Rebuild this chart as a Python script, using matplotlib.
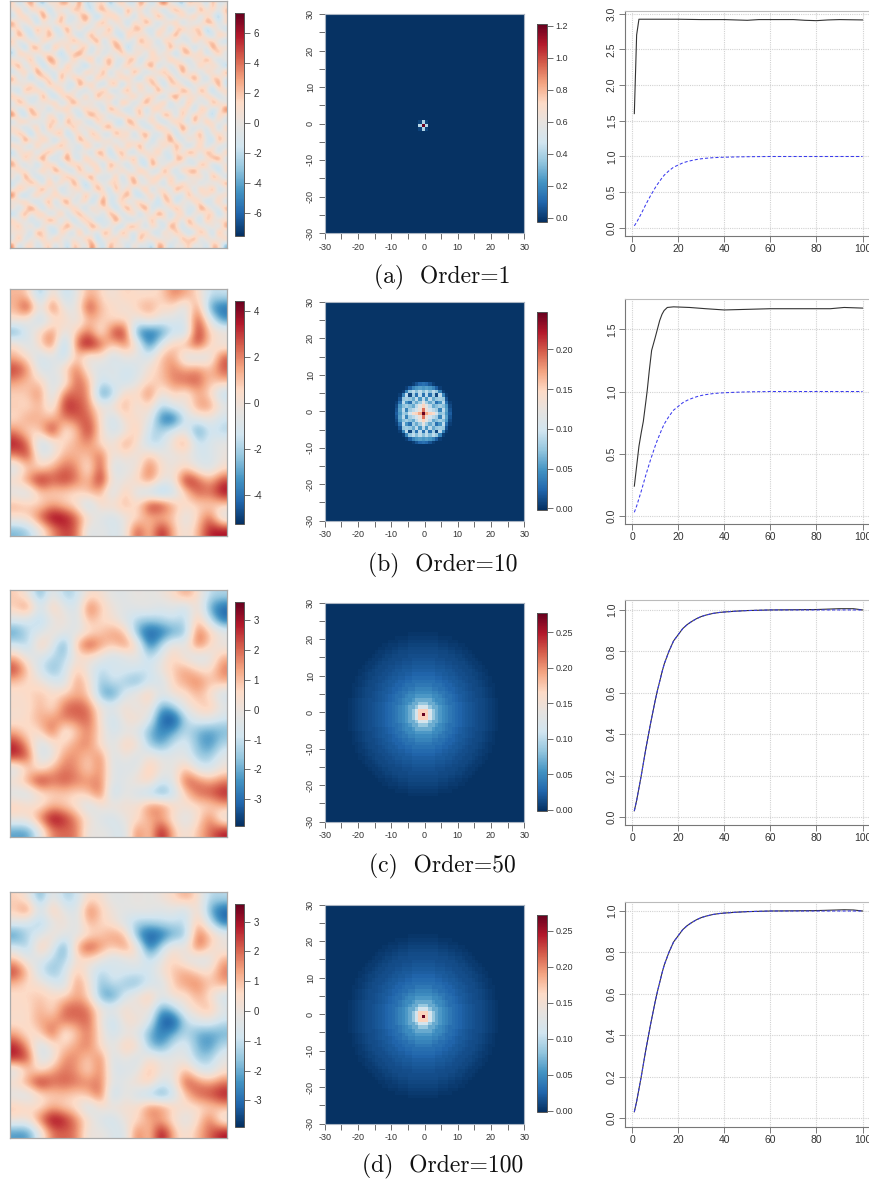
import numpy as np
import matplotlib
matplotlib.use("Agg")
import matplotlib.pyplot as plt
from matplotlib.colors import LinearSegmentedColormap
from matplotlib.ticker import MultipleLocator

W, H = 869, 1184
plt.rcParams['font.family'] = ['Liberation Sans', 'DejaVu Sans']
plt.rcParams['axes.unicode_minus'] = False

# ---- values (colour-scale units) ----
FIELD_ORDER1 = [
 [2,-3,1,4,-1,-4,2,0,3,3,-2,5,-3,-1,1,2,-4,0,3,-2,-2,4,1,-3,2,5,0,-1,-4,3,1,1,-3,4,-2,0],
 [0,4,-4,1,2,3,-5,2,-1,-2,4,1,0,-4,3,3,1,-2,-3,5,0,1,-3,3,-1,-4,2,4,1,-2,-3,5,0,2,-1,3],
 [-3,1,3,-2,-2,5,1,-3,4,0,-3,2,4,1,-5,0,2,3,-1,2,-4,3,0,-2,5,1,-3,-2,3,0,4,-3,2,-1,-4,1],
 [4,-1,0,3,-4,1,-2,2,3,-3,1,-1,3,-2,2,4,-3,1,1,-4,3,-2,5,1,-3,0,2,3,-4,1,-2,0,4,3,-2,2],
 [1,2,-3,-1,4,0,3,-4,0,5,-2,3,-3,0,1,-2,5,-3,2,0,2,4,-3,-1,0,3,-4,1,4,-1,3,2,-5,1,0,-3],
 [-2,5,1,-4,2,-1,4,1,-3,2,0,-4,1,4,-2,3,0,-1,-4,3,1,-1,2,-3,4,-2,1,5,-3,2,-1,4,-1,-3,3,2],
 [3,-3,2,1,-3,3,0,-2,2,-1,4,2,-2,1,5,-4,2,3,-1,1,-3,5,0,2,-4,3,1,-2,0,-3,4,-2,3,2,-1,-3],
 [0,1,-5,3,4,-2,-3,5,-1,3,-3,0,4,-3,0,1,-2,4,2,-5,2,-2,3,-1,1,-3,5,0,3,1,-4,1,-2,5,0,2],
 [-4,3,2,-1,0,2,1,-1,-4,1,2,5,-1,-2,3,-3,1,-2,4,0,-1,3,-3,4,-2,2,-1,-4,2,4,0,3,-3,-1,4,-2],
 [2,-2,0,4,-3,-1,5,2,0,-3,3,-2,2,4,-4,2,3,0,-3,2,4,-4,1,0,3,-2,4,1,-1,-3,2,-1,5,0,-3,1],
 [1,5,-3,1,2,-4,0,3,-3,4,-1,1,-5,0,1,-1,4,-3,1,3,-2,0,2,5,-4,1,-3,2,3,0,-2,4,-2,2,1,-4],
 [-3,0,3,-2,5,1,-2,-1,2,1,0,-3,3,2,-2,5,-4,2,0,-3,5,1,-3,-1,2,3,0,-3,5,-1,1,-3,3,0,-2,4],
 [4,-2,1,-4,0,3,2,-4,5,-2,3,2,-1,-3,4,0,1,-1,3,2,-1,-4,3,2,-2,0,4,-1,-2,2,4,1,-4,3,2,-1],
 [0,2,-1,3,-2,-3,4,1,-1,0,-4,5,1,3,-2,-3,2,4,-5,1,0,3,-2,4,1,-4,2,3,0,-4,1,-2,2,-1,5,-3],
 [-1,-4,4,1,3,0,-3,2,3,-3,2,-1,-3,1,0,4,-2,-3,2,4,-3,2,0,-3,5,1,-1,-2,4,3,-3,5,0,-4,1,2],
 [3,1,-2,0,-3,5,-1,-4,1,4,0,-2,4,-3,5,-1,3,1,-2,-1,4,-2,1,3,-2,-3,3,5,-1,0,2,-2,3,1,-3,0],
 [-2,4,2,-3,1,-1,2,3,-3,-1,5,1,-2,2,-3,1,0,-4,4,2,-3,0,5,-1,0,4,-4,1,-3,4,-1,0,-3,4,2,-1],
 [1,-3,0,5,-2,2,-4,1,2,3,-3,0,3,-1,2,-4,5,2,-2,-3,1,3,-4,2,3,-2,0,-1,2,1,-4,3,2,-2,-1,5],
 [5,0,-4,2,4,-3,3,-1,-2,0,2,-4,1,5,0,2,-3,1,3,0,-2,4,-1,1,-3,5,2,-3,4,-2,3,1,-1,-4,3,0],
 [-3,2,3,-1,-2,1,0,4,-3,5,-1,3,-2,-3,4,-1,1,-2,-4,5,2,-3,0,3,-1,-4,1,3,0,-3,5,-2,4,0,1,-2],
 [2,-1,-3,1,3,-4,5,-2,1,-1,4,-2,2,0,-3,3,4,-1,1,-2,3,1,-3,-2,4,2,-2,-1,5,1,-3,0,-2,3,-4,3],
 [0,4,1,-5,2,0,-2,3,3,-4,0,2,-3,4,1,-2,-3,5,0,3,-4,2,4,0,-3,1,3,-4,2,-2,1,4,-3,1,2,-1],
 [-2,-3,5,2,-1,3,1,-4,0,2,-3,5,1,-2,3,0,2,-3,2,-1,1,-2,3,-4,2,-1,5,0,-3,3,-1,2,0,-4,4,1],
 [3,1,-1,-3,4,-2,-1,2,4,-1,1,-4,3,2,-4,1,-1,3,-3,4,0,5,-3,1,-1,3,-2,4,1,-4,0,3,-3,2,-1,-2],
 [-4,2,0,3,-3,1,4,0,-3,3,-2,1,-1,-3,5,2,-4,1,4,-2,-3,1,2,-1,4,-3,0,2,-2,5,2,-1,4,1,-3,3],
 [1,-2,4,-1,2,5,-3,-2,1,5,-1,-3,4,0,-2,3,0,-3,2,1,4,-3,0,3,-2,1,-4,3,4,-3,1,-2,0,3,5,-2],
 [4,0,-3,2,-4,0,3,1,-4,0,3,2,-2,3,1,-4,4,2,-1,-3,2,-1,-4,5,1,-2,3,1,-2,0,-3,4,2,-3,-1,1],
 [-1,3,1,-2,1,3,-2,5,2,-2,-3,4,0,-3,4,-1,2,-2,3,0,-2,4,1,-2,-3,5,-1,-3,3,2,5,-2,0,1,-4,2],
 [2,-4,5,0,-3,-1,1,-3,0,4,1,-2,2,5,-3,0,-3,4,-4,2,3,-3,2,0,4,-1,2,0,-4,1,-1,3,-3,4,2,-3],
 [-3,1,-1,4,2,-3,4,-1,3,-3,5,0,-4,1,2,-2,3,1,0,-2,5,0,-2,3,-1,-3,4,-2,3,-1,2,-3,1,-2,0,4],
 [0,3,2,-3,0,5,-2,2,-4,1,-1,3,-2,-1,4,1,-4,5,-2,3,-3,1,4,-4,2,1,-3,5,1,2,-3,4,-1,5,-3,-1],
 [5,-2,-4,1,3,-2,0,3,1,-2,2,-3,4,0,-3,3,-1,-2,2,4,-1,-4,0,3,-2,4,0,-1,-3,4,0,-1,3,-2,1,2],
 [-1,2,3,-2,-3,1,4,-4,2,5,-3,1,2,-4,1,5,-3,0,3,-3,1,3,-2,1,-4,2,3,-4,2,-2,3,1,-4,0,3,-3],
 [2,-3,0,5,1,-4,2,1,-2,0,3,-1,-3,3,-1,2,1,-4,1,5,-2,2,5,-3,0,-2,1,4,-1,0,-3,5,2,-2,-1,4],
 [-4,1,4,-1,2,3,-3,-1,4,-3,1,4,0,-2,2,-3,4,2,-3,0,3,-4,1,-1,5,2,-3,0,3,-4,2,-1,1,3,-4,0],
 [3,-2,1,-3,0,-1,5,2,-3,2,-4,0,3,1,-4,0,-2,5,1,-2,-3,2,-1,4,-3,1,-1,3,-2,5,-1,-3,4,-1,2,1],
 [0,4,-2,3,-4,2,-3,0,1,4,2,-2,-1,4,3,-3,1,-1,-4,3,4,0,-3,2,1,-4,5,1,-3,1,3,0,-2,2,-3,4],
 [1,-1,2,-4,5,1,0,-4,3,-1,-3,5,-3,0,-2,4,2,-3,5,0,-2,1,3,-2,-3,3,-2,4,0,-3,-2,4,1,-4,5,-2],
 [-2,5,-3,1,-1,3,-2,4,-1,0,1,-2,3,2,-4,1,-1,3,-2,2,-4,5,-1,3,0,-1,2,-3,4,1,5,-3,2,0,-1,3],
 [4,-3,1,2,-2,0,3,-3,2,-4,3,1,-2,5,0,-3,4,0,1,-3,2,-2,0,-4,4,2,-3,1,-1,3,-2,1,-3,3,2,-4],
]
FIELD_ORDER10 = [
 [1.2,.9,-3,.9,-2,-.6,1.5,.6,-.3,.9,.3,.3,.6,2.2,1.5,.6,-1.7,-1.4],
 [1.2,3.9,-1.2,3.2,-.7,-.6,3.5,.9,.6,-.3,.9,1.8,.3,.6,-1.4,2.5,-3.4,-4.2],
 [.3,-.4,-2.1,-.3,.9,-1,1.2,.9,.3,.6,-.7,.4,-.6,-.9,-1.2,3.3,-.6,-3.5],
 [-3.2,-.9,.6,2.2,-.9,.9,2.5,-.6,3.2,3.5,-3.9,-4.2,-3.7,-1.4,-2.2,3.9,.6,.3],
 [.6,-1.4,.6,2.7,-3.5,2.7,4.3,2.7,.6,2.2,.3,-4.2,-.6,.9,1.4,3.2,.6,-.6],
 [1.2,.3,-1.7,-.6,-2,1.2,-.9,.3,-1.7,-.3,-.6,-1.2,1.2,1.7,-1.2,-1.4,-.9,2.7],
 [3.2,2,-1.4,-.9,.6,2.5,-.3,-1.2,-.6,-1.4,-1.2,.3,.9,2.2,1.4,2,.9,2.7],
 [1.7,.9,.9,-1.2,-.6,2.7,1.4,-1.7,-.6,-1.7,-.6,.6,.9,2,2.5,2.7,.9,1.2],
 [.6,.9,2.2,-1.7,2.5,2.2,2.2,-3.9,-2.2,.9,.3,2.5,-.6,.9,-.3,1.4,.6,-2.2],
 [.9,.3,1.4,-.9,3.5,3,2,-.3,.3,1.7,-.6,.9,-2.2,-.6,-.3,1.7,2,-.3],
 [.3,1.7,1.2,1.2,2,2.5,2.7,.3,-2,.6,.3,-.3,-3.9,-4.6,-1.2,-.6,-.3,-1.4],
 [2,.3,.9,3.9,-.3,.9,3.5,.3,-1.4,-.6,1.4,-1.7,-2,-.9,-.3,-3.7,-1.2,-2],
 [3.7,2.5,-2.2,-.6,.6,1.4,2,.3,-.3,2,.3,-2,-1.7,.6,2,-1.7,-.9,-.3],
 [2,3.2,-.9,-.3,1.4,1.2,.9,2.7,-.6,.3,-.6,1.2,-.3,-.6,-.3,-1.2,-1.2,-.3],
 [-1.4,.9,.6,1.4,2.5,2,-.3,3.2,-1.4,-.6,-.3,2.5,.3,-.3,.9,-.6,-1.2,.3],
 [.6,2,3.9,2.5,3.2,2.2,.9,3.9,-.6,-.3,.6,2.2,-.3,-.3,3.9,2.7,1.2,3],
 [-.9,-1.4,.9,.6,.6,.3,1.2,1.4,-1.7,1.4,-1.2,-2,-3,-1.7,.6,2.7,2.2,3.9],
 [1.4,.9,.6,1.7,.9,.3,-2.2,.6,.3,1.4,.3,3.5,3.5,1.4,.3,.6,.6,.6],
 [.3,.6,2.7,4.2,3.9,2.5,.3,-.9,-1.4,-.3,.3,1.4,.9,.9,-.9,.6,2.7,-1.2],
 [-2.7,-2.2,-.3,1.7,3,2.5,-1.2,-.3,-1.2,-.6,3.2,.6,3.9,1.2,-.3,1.2,3.5,3.7],
]
FIELD_ORDER50 = [
 [.8,0,-2.2,.1,-1.5,-1.1,.5,.3,-.4,-.4,0,-.3,0,.5,1.5,.5,-1.2,-1.2],
 [.8,2,-1,1.1,-.3,-.9,2.2,.9,0,-.4,-.3,-.1,-.6,-.3,-1.2,.6,-2.2,-3.2],
 [-.5,-.8,-1.5,-.3,.3,-.8,1.2,.5,.3,-.6,-1.3,-1.5,-1.2,-.9,-1.3,1.2,-1,-3],
 [-2.4,-1,-.6,.3,-.3,-.5,.3,.8,1.5,1.1,-2.2,-3.4,-3,-2.2,-1.8,2.2,.9,0],
 [-.8,-1.5,1.2,-.3,-2.5,1.2,2.7,1.5,.8,1.8,.5,-3.1,-1.2,.3,-.3,2.2,.6,-.3],
 [1.2,-.3,-.6,-1.2,-1.5,.2,.3,-.2,-1,-.6,0,-1.2,-.3,.9,-.3,-.9,-.5,1.2],
 [2.6,.9,-.9,-1.9,-.9,1,-.2,-1.3,-.6,-.6,-.8,-1,.2,.8,1.5,.6,.3,1.9],
 [.9,.5,.3,-.6,-.8,1.6,.5,-1.8,-.8,-1.5,-2,-.8,-.9,.8,1.3,1.9,.9,1.2],
 [.3,.6,1,.5,.8,1.2,.9,-2,-2.6,-.5,.2,1,-.5,.3,.3,1.2,.3,-1],
 [.5,.3,1.2,.2,2,2.3,1.9,0,-.3,.5,-.6,.5,-2.3,-1.5,0,.6,1.2,-.2],
 [.2,.6,1.3,1.5,1.8,1.9,2.2,.2,-1.3,.3,.5,-.3,-3.2,-3.8,-1.3,-.3,-.3,-.9],
 [1.2,.3,.6,2.3,-.3,.8,1.8,.5,-.9,-.3,-.5,-1.9,-2.7,-2.2,-1,-2,-2.3,-1.9],
 [2.8,1.3,-1,.2,.6,1.5,1.8,.2,-.5,.9,.5,-1.6,-2.3,-.9,-.5,-1.8,-2.6,-1.2],
 [2.8,2.3,-.9,-.3,1.6,1.5,.8,1.9,-.8,.2,-.8,.3,-.3,-.3,-.3,-1.5,-1.6,-.3],
 [-.9,.8,.3,1.2,1.9,1.6,.5,1.9,-.6,-.5,-.5,1.2,0,-.3,1.2,-.5,-.8,.2],
 [.5,1.5,3,1.9,2.3,1.8,1.6,1.8,-.6,-.3,.3,.8,-.9,-.3,2.3,1.9,1.2,1.8],
 [-.6,-.9,.3,.6,.8,.5,.9,2.2,-1.5,0,-.9,-1.5,-2.3,-1.2,.8,2,2.3,2.9],
 [.9,.5,.3,1.2,.8,.3,-1,.2,.2,.3,.3,1.8,1.9,.6,.2,.5,.5,1.2],
 [.2,.3,1.9,3.4,2.8,1.6,.3,-.6,-.9,0,.3,1.3,1.3,.2,-.6,.3,2,-.5],
 [-2.2,-2.3,-.3,1.8,2,1.9,-.3,0,-.5,-.8,2,.5,3.3,1,0,1,1.9,2.9],
]
FIELD_ORDER100 = [
 [.7,.1,-2.3,.2,-1.5,-1,.6,.3,-.4,-.3,0,-.3,.1,.6,1.4,.5,-1.3,-1.1],
 [.9,2.1,-.9,1.2,-.3,-.8,2.1,.8,0,-.3,-.2,-.1,-.5,-.2,-1.1,.7,-2.1,-3.3],
 [-.4,-.9,-1.6,-.4,.4,-.7,1.3,.6,.3,-.7,-1.4,-1.4,-1.1,-1,-1.2,1.3,-.9,-2.9],
 [-2.5,-1.1,-.5,.4,-.4,-.4,.4,.8,1.5,1.2,-2.3,-3.5,-3.1,-2.1,-1.7,2.2,1,.1],
 [-.7,-1.6,1.3,-.2,-2.6,1.3,2.7,1.6,.7,1.7,.4,-3.2,-1.1,.4,-.2,2.2,.7,-.2],
 [1.1,-.4,-.5,-1.3,-1.6,.3,.4,-.1,-.9,-.5,.1,-1.1,-.2,.9,-.3,-.8,-.6,1.3],
 [2.6,1,-1,-1.8,-.8,1.1,-.2,-1.4,-.5,-.7,-.8,-.9,.3,.9,1.4,.7,.3,1.9],
 [1,.4,.4,-.5,-.9,1.7,.4,-1.9,-.9,-1.6,-1.9,-.7,-.8,.9,1.4,1.8,.8,1.3],
 [.4,.7,.9,.6,.7,1.3,.8,-2.1,-2.5,-.6,.3,1.1,-.4,.4,.2,1.3,.4,-1.1],
 [.6,.4,1.3,.3,2.1,2.2,1.9,.1,-.2,.6,-.5,.4,-2.4,-1.4,.1,.6,1.3,-.3],
 [.3,.5,1.4,1.4,1.9,1.8,2.2,0,-1.4,.4,.4,-.4,-3.3,-3.7,-1.2,-.4,-.2,-1],
 [1.3,.2,.7,2.4,-.2,.9,1.9,.4,-1,-.2,-.4,-2,-2.8,-2.1,-1.1,-2.1,-2.2,-2],
 [2.8,1.4,-1.1,.3,.7,1.4,1.9,.3,-.4,1,.6,-1.7,-2.4,-.8,-.4,-1.9,-2.5,-1.1],
 [2.9,2.4,-.8,-.2,1.7,1.6,.7,2,-.9,.1,-.9,.4,-.2,-.2,-.2,-1.6,-1.5,-.2],
 [-.8,.9,.4,1.3,1.9,1.5,.4,2,-.7,-.6,-.4,1.3,.1,-.2,1.3,-.4,-.9,.3],
 [.6,1.6,3.1,2,2.2,1.9,1.7,1.9,-.5,-.2,.4,.9,-.8,-.2,2.4,1.8,1.3,1.9],
 [-.5,-.8,.4,.7,.9,.6,1,2.3,-1.6,.1,-1,-1.6,-2.4,-1.1,.9,2.1,2.4,3],
 [1,.6,.4,1.3,.7,.4,-1.1,.3,.2,.4,.4,1.9,1.8,.7,.3,.4,.6,1.1],
 [.3,.2,2,3.4,2.9,1.7,.4,-.7,-1,.1,.4,1.4,1.2,.3,-.5,.4,2.1,-.4],
 [-2.3,-2.4,-.2,1.9,2.1,1.8,-.2,.1,-.6,-.7,2.1,.6,3.4,1.1,.1,1.1,2,3],
]
KERNEL_BACKGROUND_ORDER1 = -.02
KERNEL_ORDER1 = [
 [.02,.40,.02],
 [.42,1.21,.42],
 [.02,.40,.02],
]
KERNEL_ORDER10 = [
 [0,0,0,0,0,.005,.015,.025,.03,.025,.015,.005,0,0,0,0,0],
 [0,0,0,.005,.02,.04,.05,.055,.05,.055,.05,.04,.02,.005,0,0,0],
 [0,0,.005,.04,.075,.09,.07,.09,.07,.09,.07,.09,.075,.04,.005,0,0],
 [0,.005,.04,.09,.01,.08,.03,.09,.03,.09,.03,.08,.01,.09,.04,.005,0],
 [0,.015,.075,.08,.075,.06,.09,.05,.09,.05,.09,.06,.075,.08,.075,.015,0],
 [.005,.03,.09,.05,.03,.08,.06,.08,.12,.08,.06,.08,.03,.05,.09,.03,.005],
 [.01,.05,.07,.08,.07,.06,.09,.12,.15,.12,.09,.06,.07,.08,.07,.05,.01],
 [.015,.055,.09,.04,.08,.09,.1,.13,.19,.13,.1,.09,.08,.04,.09,.055,.015],
 [.02,.05,.08,.07,.1,.14,.15,.17,.246,.17,.15,.14,.1,.07,.08,.05,.02],
 [.015,.055,.09,.04,.08,.09,.1,.13,.19,.13,.1,.09,.08,.04,.09,.055,.015],
 [.01,.05,.07,.08,.07,.06,.09,.12,.15,.12,.09,.06,.07,.08,.07,.05,.01],
 [.005,.03,.09,.05,.03,.08,.06,.08,.12,.08,.06,.08,.03,.05,.09,.03,.005],
 [0,.015,.075,.08,.075,.06,.09,.05,.09,.05,.09,.06,.075,.08,.075,.015,0],
 [0,.005,.04,.09,.01,.08,.03,.09,.03,.09,.03,.08,.01,.09,.04,.005,0],
 [0,0,.005,.04,.075,.09,.07,.09,.07,.09,.07,.09,.075,.04,.005,0,0],
 [0,0,0,.005,.02,.04,.05,.055,.05,.055,.05,.04,.02,.005,0,0,0],
 [0,0,0,0,0,.005,.015,.025,.03,.025,.015,.005,0,0,0,0,0],
]
RADIAL_ORDER50 = [.277,.17,.115,.085,.068,.057,.05,.044,.038,.033,.029,.026,.023,.02,.018,.016,.014,.012,.01,.008,.006,.004,.002,0]
RADIAL_ORDER100 = [.272,.165,.112,.083,.066,.056,.049,.043,.037,.032,.028,.025,.022,.02,.018,.016,.014,.012,.01,.008,.006,.004,.002,0]

FIELD_LIMITS = [(-7.55, 7.3), (-5.28, 4.44), (-3.89, 3.6), (-3.88, 3.59)]
KERNEL_LIMITS = [(-.025, 1.21), (-.002, .2465), (-.002, .277), (-.002, .272)]
FIELD_TICKS = [[-6,-4,-2,0,2,4,6], [-4,-2,0,2,4], [-3,-2,-1,0,1,2,3], [-3,-2,-1,0,1,2,3]]
KERNEL_TICKS = [[0,.2,.4,.6,.8,1,1.2], [0,.05,.1,.15,.2], [0,.05,.1,.15,.2,.25], [0,.05,.1,.15,.2,.25]]
KERNEL_FMT = ['%.1f', '%.2f', '%.2f', '%.2f']

CDF_X = [1,2,3,4,5,6,7,8,9,10,11,12,13,14,15,16,17,18,19,20,22,24,26,28,30,32,35,38,40,45,50,60,80,100]
CDF_Y = [.03,.08,.14,.2,.265,.33,.39,.45,.505,.56,.61,.655,.7,.74,.77,.8,.825,.85,.865,.88,.91,.93,.945,.958,.968,.975,.983,.988,.99,.994,.997,1,1,1]
EST1_X = [1,2,3,10,20,30,40,45,50,55,60,70,75,80,85,90,100]
EST1_Y = [1.6,2.7,2.92,2.92,2.92,2.915,2.915,2.91,2.905,2.915,2.915,2.915,2.905,2.9,2.91,2.915,2.91]
EST10_X = [1,2,3,4,4.9,6,6.6,7.5,8.5,10,11,12,13,13.9,15.3,18,25,32,40,50,60,80,86,92,100]
EST10_Y = [.24,.4,.56,.67,.76,.92,1.01,1.17,1.33,1.43,1.5,1.57,1.62,1.65,1.675,1.68,1.675,1.665,1.655,1.66,1.665,1.665,1.665,1.675,1.67]
EST50_X = CDF_X[:-2] + [80,90,96,100]
EST50_Y = CDF_Y[:-2] + [1.002,1.006,1.006,1]
EST100_X = CDF_X[:-2] + [80,92,96,100]
EST100_Y = CDF_Y[:-2] + [1.002,1.006,1.005,1]

EST_X = [EST1_X, EST10_X, EST50_X, EST100_X]
EST_Y = [EST1_Y, EST10_Y, EST50_Y, EST100_Y]
LINE_YLIM = [(-.112, 3.035), (-.064, 1.743), (-.0386, 1.048), (-.0435, 1.0435)]
LINE_YTICKS = [[0,.5,1,1.5,2,2.5,3], [0,.5,1,1.5], [0,.2,.4,.6,.8,1], [0,.2,.4,.6,.8,1]]
LINE_XTICKS = [0,20,40,60,80,100]
CAPTIONS = ['(a)  Order=1', '(b)  Order=10', '(c)  Order=50', '(d)  Order=100']

# ---- layout in reference pixels: left, top, right, bottom per row ----
FIELD_Y = [(1,248),(289.3,536),(590,837.3),(892.3,1138.3)]
FIELD_CB_Y = [(13.3,236),(301,524.3),(602.3,825.7),(904,1126.7)]
KERNEL_Y = [(14,233),(302,520.7),(602.7,821.7),(904.7,1123.7)]
KERNEL_CB_Y = [(24,222),(312.3,510),(613.3,811),(915,1112)]
LINE_Y = [(11,236),(299,524),(600,825),(902,1127)]
CAPTION_Y = [277,565,866,1166]

cmap = LinearSegmentedColormap.from_list('rdbu', ['#053061','#2166AC','#4393C3','#92C5DE','#D1E5F0','#E6E3E0',
                                                 '#FDDBC7','#F4A582','#D6604D','#B2182B','#67001F'], N=256)
TXT = '#333333'
FRAME = '#aaaaaa'

def rect(l, t, r, b):
    return [l/W, 1-b/H, (r-l)/W, (b-t)/H]

def colorbar(fig, im, l, r, t, b, ticks, fmt=None, size=7):
    cax = fig.add_axes(rect(l, t, r, b))
    cb = fig.colorbar(im, cax=cax, ticks=ticks)
    cb.outline.set_edgecolor('#555555')
    cb.outline.set_linewidth(.7)
    cax.tick_params(length=4, width=.6, color='#555555', labelsize=size, labelcolor=TXT, pad=2.5)
    if fmt:
        cax.set_yticklabels([fmt % v for v in ticks])
    else:
        cax.set_yticklabels([str(v) for v in ticks])
    return cb

fig = plt.figure(figsize=(W/100, H/100), dpi=100)
fields = [FIELD_ORDER1, FIELD_ORDER10, FIELD_ORDER50, FIELD_ORDER100]
interps = ['bicubic', 'bicubic', 'bicubic', 'bicubic']
for i, field in enumerate(fields):
    ax = fig.add_axes(rect(10, FIELD_Y[i][0], 227.3, FIELD_Y[i][1]))
    vmin, vmax = FIELD_LIMITS[i]
    im = ax.imshow(np.array(field, float), cmap=cmap, vmin=vmin, vmax=vmax, aspect='auto', interpolation=interps[i])
    ax.set_xticks([]); ax.set_yticks([])
    for s in ax.spines.values():
        s.set_edgecolor(FRAME); s.set_linewidth(.9)
    colorbar(fig, im, 235, 244.3, FIELD_CB_Y[i][0], FIELD_CB_Y[i][1], FIELD_TICKS[i])

def kernel_grid(i):
    z = np.zeros((60, 60))
    if i < 2:
        m = np.array([KERNEL_ORDER1, KERNEL_ORDER10][i])
        if i == 0:
            z[:] = KERNEL_BACKGROUND_ORDER1
        h = m.shape[0]//2
        z[29-h:29+h+1, 29-h:29+h+1] = m
    else:
        prof = np.array([RADIAL_ORDER50, RADIAL_ORDER100][i-2])
        c = np.arange(60) - 29
        d = np.rint(np.hypot(*np.meshgrid(c, c))).astype(int)
        z = prof[np.minimum(d, len(prof)-1)]
    return z

for i in range(4):
    ax = fig.add_axes(rect(324.7, KERNEL_Y[i][0], 524.3, KERNEL_Y[i][1]))
    vmin, vmax = KERNEL_LIMITS[i]
    im = ax.imshow(kernel_grid(i), cmap=cmap, vmin=vmin, vmax=vmax, aspect='auto', origin='lower',
                   extent=[-30,30,-30,30], interpolation='nearest')
    t = list(range(-30, 31, 10))
    ax.set_xticks(t); ax.set_yticks(t)
    ax.xaxis.set_minor_locator(MultipleLocator(5)); ax.yaxis.set_minor_locator(MultipleLocator(5))
    ax.tick_params(which='both', length=4, width=.6, color='#555555', labelsize=6.5, labelcolor=TXT, pad=3)
    for lab in ax.get_yticklabels():
        lab.set_rotation(90); lab.set_va('center')
    for s in ax.spines.values():
        s.set_edgecolor('#a9b4c2'); s.set_linewidth(.8)
    colorbar(fig, im, 537.3, 546.7, KERNEL_CB_Y[i][0], KERNEL_CB_Y[i][1], KERNEL_TICKS[i], KERNEL_FMT[i], 6.5)

for i in range(4):
    ax = fig.add_axes(rect(625.2, LINE_Y[i][0], 871.7, LINE_Y[i][1]))
    ax.set_xlim(-2.96, 103.96)
    ax.set_ylim(*LINE_YLIM[i])
    ax.set_xticks(LINE_XTICKS)
    ax.set_yticks(LINE_YTICKS[i])
    ax.set_xticklabels([str(v) for v in LINE_XTICKS])
    ax.set_yticklabels(['%.1f' % v for v in LINE_YTICKS[i]], rotation=90, va='center')
    ax.grid(True, color='#d2d2d2', linestyle=(0, (1, 1)), linewidth=.8)
    ax.set_axisbelow(True)
    ax.tick_params(length=4, width=.6, color='#666666', labelsize=7.5, labelcolor=TXT, pad=2)
    ax.plot(EST_X[i], EST_Y[i], color='#333333', lw=.8)
    ax.plot(CDF_X, CDF_Y, color='#3a3aee', lw=.75, linestyle=(0, (3, 2)))
    for k, s in ax.spines.items():
        s.set_edgecolor('#777777' if k in ('left', 'bottom') else '#bbbbbb')
        s.set_linewidth(.8)

for y, cap in zip(CAPTION_Y, CAPTIONS):
    fig.text(442.5/W, 1-y/H, cap, family='cmr10', fontsize=17, ha='center', va='center', color='#111111')

fig.savefig('out.png', dpi=100)
